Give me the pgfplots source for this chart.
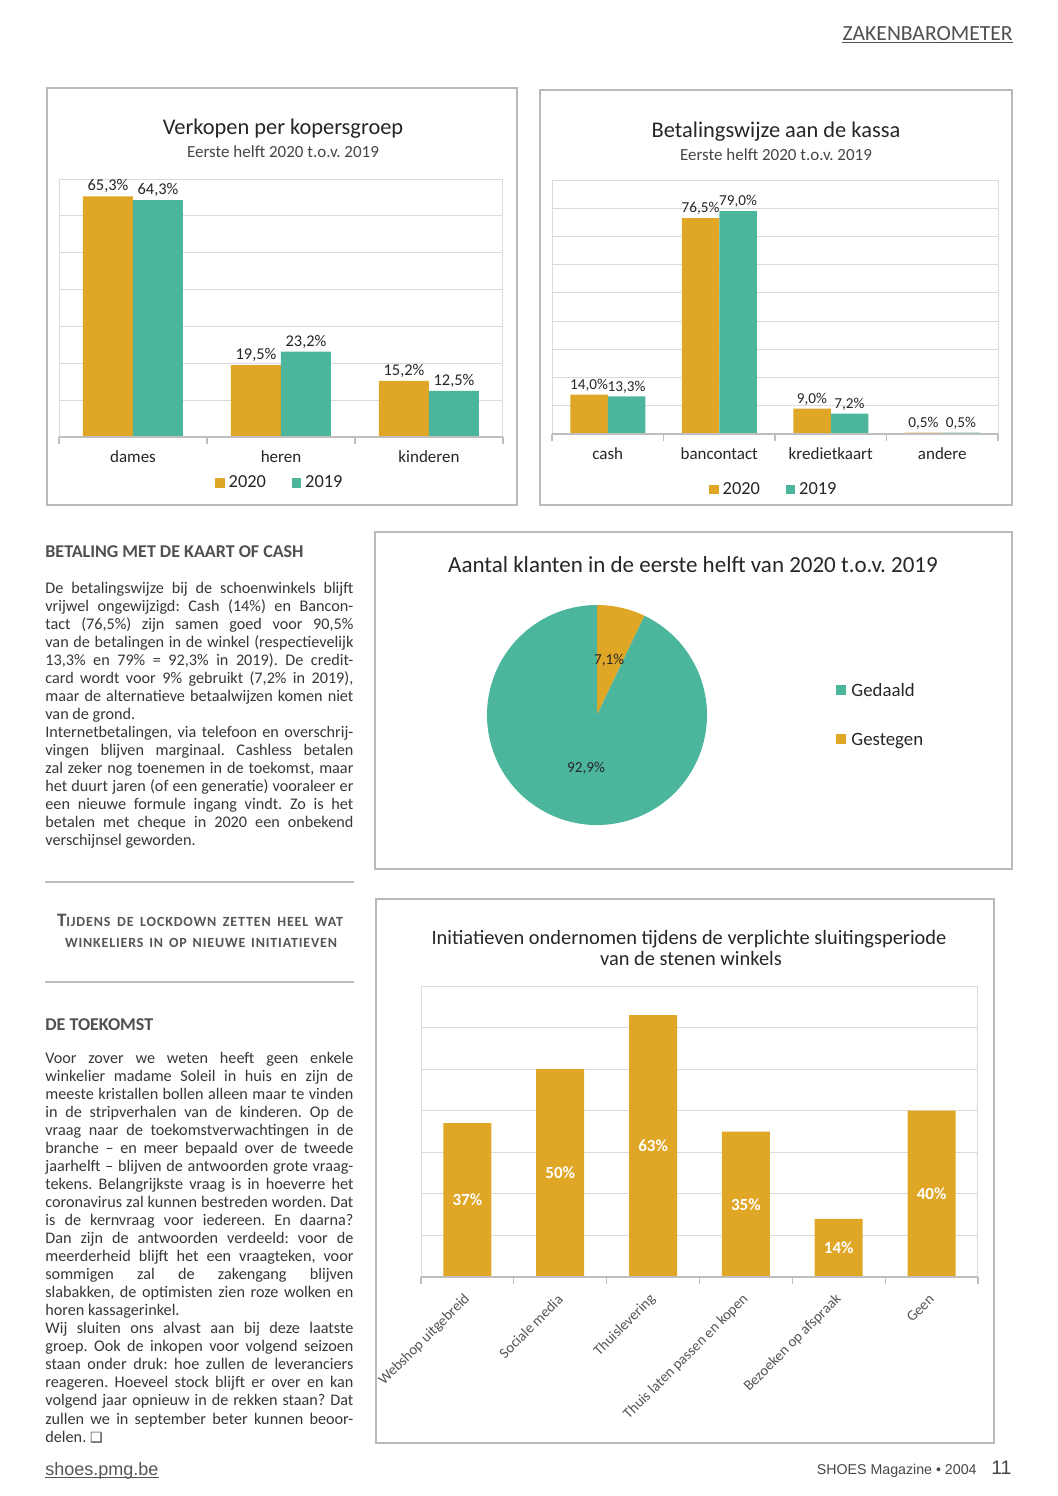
\documentclass[border=0pt]{standalone}
\usepackage{pgfplots}
\pgfplotsset{compat=1.18}
\usepackage{fontspec}
\setmainfont{Carlito}
\newfontfamily\arialf{Liberation Sans}
\newfontfamily\dejavu{DejaVu Sans}
\definecolor{cOr}{RGB}{224,166,38}
\definecolor{cTe}{RGB}{76,182,156}
\definecolor{cGrid}{RGB}{218,218,218}
\definecolor{cAxis}{RGB}{190,190,190}
\definecolor{cFrame}{RGB}{185,185,185}
\definecolor{cTxt}{RGB}{38,38,38}
\definecolor{cSub}{RGB}{70,70,70}
\definecolor{cBody}{RGB}{55,55,55}
\definecolor{cHead}{RGB}{80,80,80}
\definecolor{cLab}{RGB}{85,85,85}
\newcommand\fs[2]{\fontsize{#1}{#2}\selectfont}
\pgfplotsset{/pgf/number format/assume math mode=true}
\pgfplotsset{mybar/.style={
  scale only axis, anchor=south west, ybar=0pt, ymin=0,
  yticklabels={}, ymajorgrids, major grid style={draw=cGrid, line width=0.5pt},
  ytick style={draw=none}, major x tick style={draw=none},
  xtick pos=left, tick align=outside, minor tick length=3.5pt, major tick length=0pt,
  minor x tick style={draw=cAxis, line width=0.6pt},
  axis line style={draw=cGrid, line width=0.5pt},
  clip=false, enlargelimits=false,
  xticklabel style={anchor=base, yshift=-12.5pt, text=cTxt},
  legend image code/.code={\fill[#1,draw=none] (0pt,-2.3pt) rectangle (4.6pt,2.3pt);},
  legend style={draw=none, fill=none, legend columns=-1, inner sep=0pt, text=cTxt,
    font=\fs{9.2}{11}, /tikz/every even column/.append style={column sep=11pt}},
}}
\def\gest{7.1}
\def\geda{92.9}
\begin{document}
\frenchspacing
\begin{tikzpicture}
\fill[white] (0,0) rectangle (529pt,-748pt);
\begin{scope}[x=0.5pt,y=-0.5pt]
% header
\node[anchor=base east, inner sep=0pt, font=\fs{10.8}{12}, text=cHead] (hdr) at (1013,40) {ZAKENBAROMETER};
\draw[cHead, line width=0.7pt] ([yshift=-1.3pt]hdr.base west) -- ([yshift=-1.3pt]hdr.base east);
% frames
\draw[cFrame, line width=1pt] (47,88) rectangle (517,505);
\draw[cFrame, line width=1pt] (540,90) rectangle (1012,505);
\draw[cFrame, line width=1pt] (375,532) rectangle (1012,869);
\draw[cFrame, line width=1pt] (376,899) rectangle (994,1443);
% chart titles
\node[anchor=base, inner sep=0pt, font=\fs{11.2}{13}, text=cTxt] at (283,134) {Verkopen per kopersgroep};
\node[anchor=base, inner sep=0pt, font=\fs{8.5}{10}, text=cSub] at (283,157.5) {Eerste helft 2020 t.o.v. 2019};
\node[anchor=base, inner sep=0pt, font=\fs{11.2}{13}, text=cTxt] at (776,137) {Betalingswijze aan de kassa};
\node[anchor=base, inner sep=0pt, font=\fs{8.5}{10}, text=cSub] at (776,160.5) {Eerste helft 2020 t.o.v. 2019};
\node[anchor=base, inner sep=0pt, font=\fs{11.5}{13}, text=cTxt] at (693,572) {Aantal klanten in de eerste helft van 2020 t.o.v. 2019};
\node[anchor=base, inner sep=0pt, font=\fs{10.2}{12}, text=cTxt] at (689,944) {Initiatieven ondernomen tijdens de verplichte sluitingsperiode};
\node[anchor=base, inner sep=0pt, font=\fs{10.2}{12}, text=cTxt] at (691,965) {van de stenen winkels};
% pie legend
\fill[cTe] (836,685) rectangle (846,695);
\node[anchor=base west, inner sep=0pt, font=\fs{9.4}{11}, text=cTxt] at (851,696) {Gedaald};
\fill[cOr] (836,734) rectangle (846,744);
\node[anchor=base west, inner sep=0pt, font=\fs{9.4}{11}, text=cTxt] at (851,745) {Gestegen};
% left column
\node[anchor=base west, inner sep=0pt, font=\bfseries\fs{9}{10}, text=cHead] at (45,557) {BETALING MET DE KAART OF CASH};
\foreach \lin [count=\i from 0] in {
{De betalingswijze bij de schoenwinkels blijft},
{vrijwel ongewijzigd: Cash (14\%) en Bancon-},
{tact (76,5\%) zijn samen goed voor 90,5\%},
{van de betalingen in de winkel (respectievelijk},
{13,3\% en 79\% = 92,3\% in 2019). De credit-},
{card wordt voor 9\% gebruikt (7,2\% in 2019),},
{maar de alternatieve betaalwijzen komen niet},
{van de grond.\hfill},
{Internetbetalingen, via telefoon en overschrij-},
{vingen blijven marginaal. Cashless betalen},
{zal zeker nog toenemen in de toekomst, maar},
{het duurt jaren (of een generatie) vooraleer er},
{een nieuwe formule ingang vindt. Zo is het},
{betalen met cheque in 2020 een onbekend},
{verschijnsel geworden.\hfill}}
{\node[anchor=base west, inner sep=0pt, font=\fs{8.1}{9}, text=cBody] at (45,{593+18.05*\i}) {\frenchspacing\makebox[154pt][s]{\lin}};}
\draw[cAxis, line width=1pt] (45,882) -- (354,882);
\node[anchor=base, inner sep=0pt, font=\bfseries\fs{7}{8}\addfontfeatures{LetterSpace=6}, text=cLab] at (200,926)
  {\makebox[143pt][s]{{\fs{9.5}{10}T}IJDENS DE LOCKDOWN ZETTEN HEEL WAT}};
\node[anchor=base, inner sep=0pt, font=\bfseries\fs{7}{8}\addfontfeatures{LetterSpace=6}, text=cLab] at (201,947)
  {\makebox[136pt][s]{WINKELIERS IN OP NIEUWE INITIATIEVEN}};
\draw[cAxis, line width=1pt] (45,982) -- (354,982);
\node[anchor=base west, inner sep=0pt, font=\bfseries\fs{9}{10}, text=cHead] at (45,1030) {DE TOEKOMST};
\foreach \lin [count=\i from 0] in {
{Voor zover we weten heeft geen enkele},
{winkelier madame Soleil in huis en zijn de},
{meeste kristallen bollen alleen maar te vinden},
{in de stripverhalen van de kinderen. Op de},
{vraag naar de toekomstverwachtingen in de},
{branche -- en meer bepaald over de tweede},
{jaarhelft -- blijven de antwoorden grote vraag-},
{tekens. Belangrijkste vraag is in hoeverre het},
{coronavirus zal kunnen bestreden worden. Dat},
{is de kernvraag voor iedereen. En daarna?},
{Dan zijn de antwoorden verdeeld: voor de},
{meerderheid blijft het een vraagteken, voor},
{sommigen zal de zakengang blijven},
{slabakken, de optimisten zien roze wolken en},
{horen kassagerinkel.\hfill},
{Wij sluiten ons alvast aan bij deze laatste},
{groep. Ook de inkopen voor volgend seizoen},
{staan onder druk: hoe zullen de leveranciers},
{reageren. Hoeveel stock blijft er over en kan},
{volgend jaar opnieuw in de rekken staan? Dat},
{zullen we in september beter kunnen beoor-},
{delen. {\dejavu\fs{7}{8}❑}\hfill}}
{\node[anchor=base west, inner sep=0pt, font=\fs{8.1}{9}, text=cBody] at (45,{1063+18.05*\i}) {\frenchspacing\makebox[154pt][s]{\lin}};}
% footer
\node[anchor=base west, inner sep=0pt, font=\arialf\fs{9}{10}, text=cLab] (url) at (45,1475) {shoes.pmg.be};
\draw[cLab, line width=0.6pt] ([yshift=-1.4pt]url.base west) -- ([yshift=-1.4pt]url.base east);
\node[anchor=base east, inner sep=0pt, font=\arialf\fs{7.1}{9}, text=cSub] at (977,1474) {SHOES Magazine • 2004};
\node[anchor=base east, inner sep=0pt, font=\arialf\fs{9.8}{11}, text=cSub] at (1012,1474) {11};
\end{scope}

% ---------- chart 1 ----------
\begin{axis}[mybar, at={(29.5pt,-218.5pt)}, width=222pt, height=129pt,
  bar width=25pt, xmin=-0.5, xmax=2.5, ymax=70, ytick={0,10,...,70},
  xtick={0,1,2}, xticklabels={dames,heren,kinderen}, minor xtick={-0.5,0.5,1.5,2.5},
  tick label style={font=\fs{8.5}{10}},
  nodes near coords={\pgfmathprintnumber[fixed,fixed zerofill,precision=1,use comma]{\pgfplotspointmeta}\%},
  nodes near coords style={font=\fs{8.2}{10}, text=cTxt, inner sep=1.5pt},
  legend style={at={(0.5,-0.178)}, anchor=center}]
\addplot[fill=cOr, draw=none] coordinates {(0,65.3) (1,19.5) (2,15.2)};
\addplot[fill=cTe, draw=none] coordinates {(0,64.3) (1,23.2) (2,12.5)};
\draw[cAxis, line width=0.8pt] (rel axis cs:0,0) -- (rel axis cs:1,0);
\legend{2020,2019}
\end{axis}

% ---------- chart 2 ----------
\begin{axis}[mybar, at={(276pt,-217pt)}, width=223pt, height=127pt,
  bar width=18.75pt, xmin=-0.5, xmax=3.5, ymax=90, ytick={0,10,...,90},
  xtick={0,1,2,3}, xticklabels={cash,bancontact,kredietkaart,andere}, minor xtick={-0.5,0.5,1.5,2.5,3.5},
  tick label style={font=\fs{8.5}{10}},
  nodes near coords={\pgfmathprintnumber[fixed,fixed zerofill,precision=1,use comma]{\pgfplotspointmeta}\%},
  nodes near coords style={font=\fs{7.6}{9}, text=cTxt, inner sep=1.5pt},
  legend style={at={(0.5,-0.22)}, anchor=center}]
\addplot[fill=cOr, draw=none] coordinates {(0,14.0) (1,76.5) (2,9.0) (3,0.5)};
\addplot[fill=cTe, draw=none] coordinates {(0,13.3) (1,79.0) (2,7.2) (3,0.5)};
\draw[cAxis, line width=0.8pt] (rel axis cs:0,0) -- (rel axis cs:1,0);
\legend{2020,2019}
\end{axis}

% ---------- pie ----------
\begin{axis}[at={(298.5pt,-357.5pt)}, anchor=center, scale only axis, width=110pt, height=110pt,
  xmin=-1, xmax=1, ymin=-1, ymax=1, hide axis, clip=false]
\addplot[draw=none] coordinates {(0,0)};
\fill[cOr] (axis cs:0,0) -- (axis cs:0,1) arc[start angle=90, delta angle={-3.6*\gest}, radius=55pt] -- cycle;
\fill[cTe] (axis cs:0,0) -- ++({90-3.6*\gest}:55pt) arc[start angle={90-3.6*\gest}, delta angle={-3.6*\geda}, radius=55pt] -- cycle;
\node[font=\fs{7.6}{9}, text=cTxt] at (axis cs:0.11,0.5) {7,1\%};
\node[font=\fs{7.6}{9}, text=cTxt] at (axis cs:-0.1,-0.48) {92,9\%};
\end{axis}

% ---------- chart 4 ----------
\begin{axis}[mybar, at={(210.5pt,-638.5pt)}, width=278.5pt, height=145.5pt,
  bar width=24pt, xmin=-0.5, xmax=5.5, ymax=70, ytick={0,10,...,70},
  xtick={0,1,2,3,4,5},
  xticklabels={Webshop uitgebreid,Sociale media,Thuislevering,Thuis laten passen en kopen,Bezoeken op afspraak,Geen},
  minor xtick={-0.5,0.5,1.5,2.5,3.5,4.5,5.5},
  xticklabel style={anchor=east, xshift=2.5pt, yshift=5pt, rotate=45, font=\fs{7.4}{9}, text=cLab},
  visualization depends on={y \as \ry},
  nodes near coords={\pgfmathprintnumber{\pgfplotspointmeta}\%},
  nodes near coords style={font=\bfseries\fs{8.5}{10}, text=white, anchor=center, yshift={-1.0393*\ry}}]
\addplot[fill=cOr, draw=none] coordinates {(0,37) (1,50) (2,63) (3,35) (4,14) (5,40)};
\draw[cAxis, line width=0.8pt] (rel axis cs:0,0) -- (rel axis cs:1,0);
\end{axis}
\end{tikzpicture}
\end{document}
